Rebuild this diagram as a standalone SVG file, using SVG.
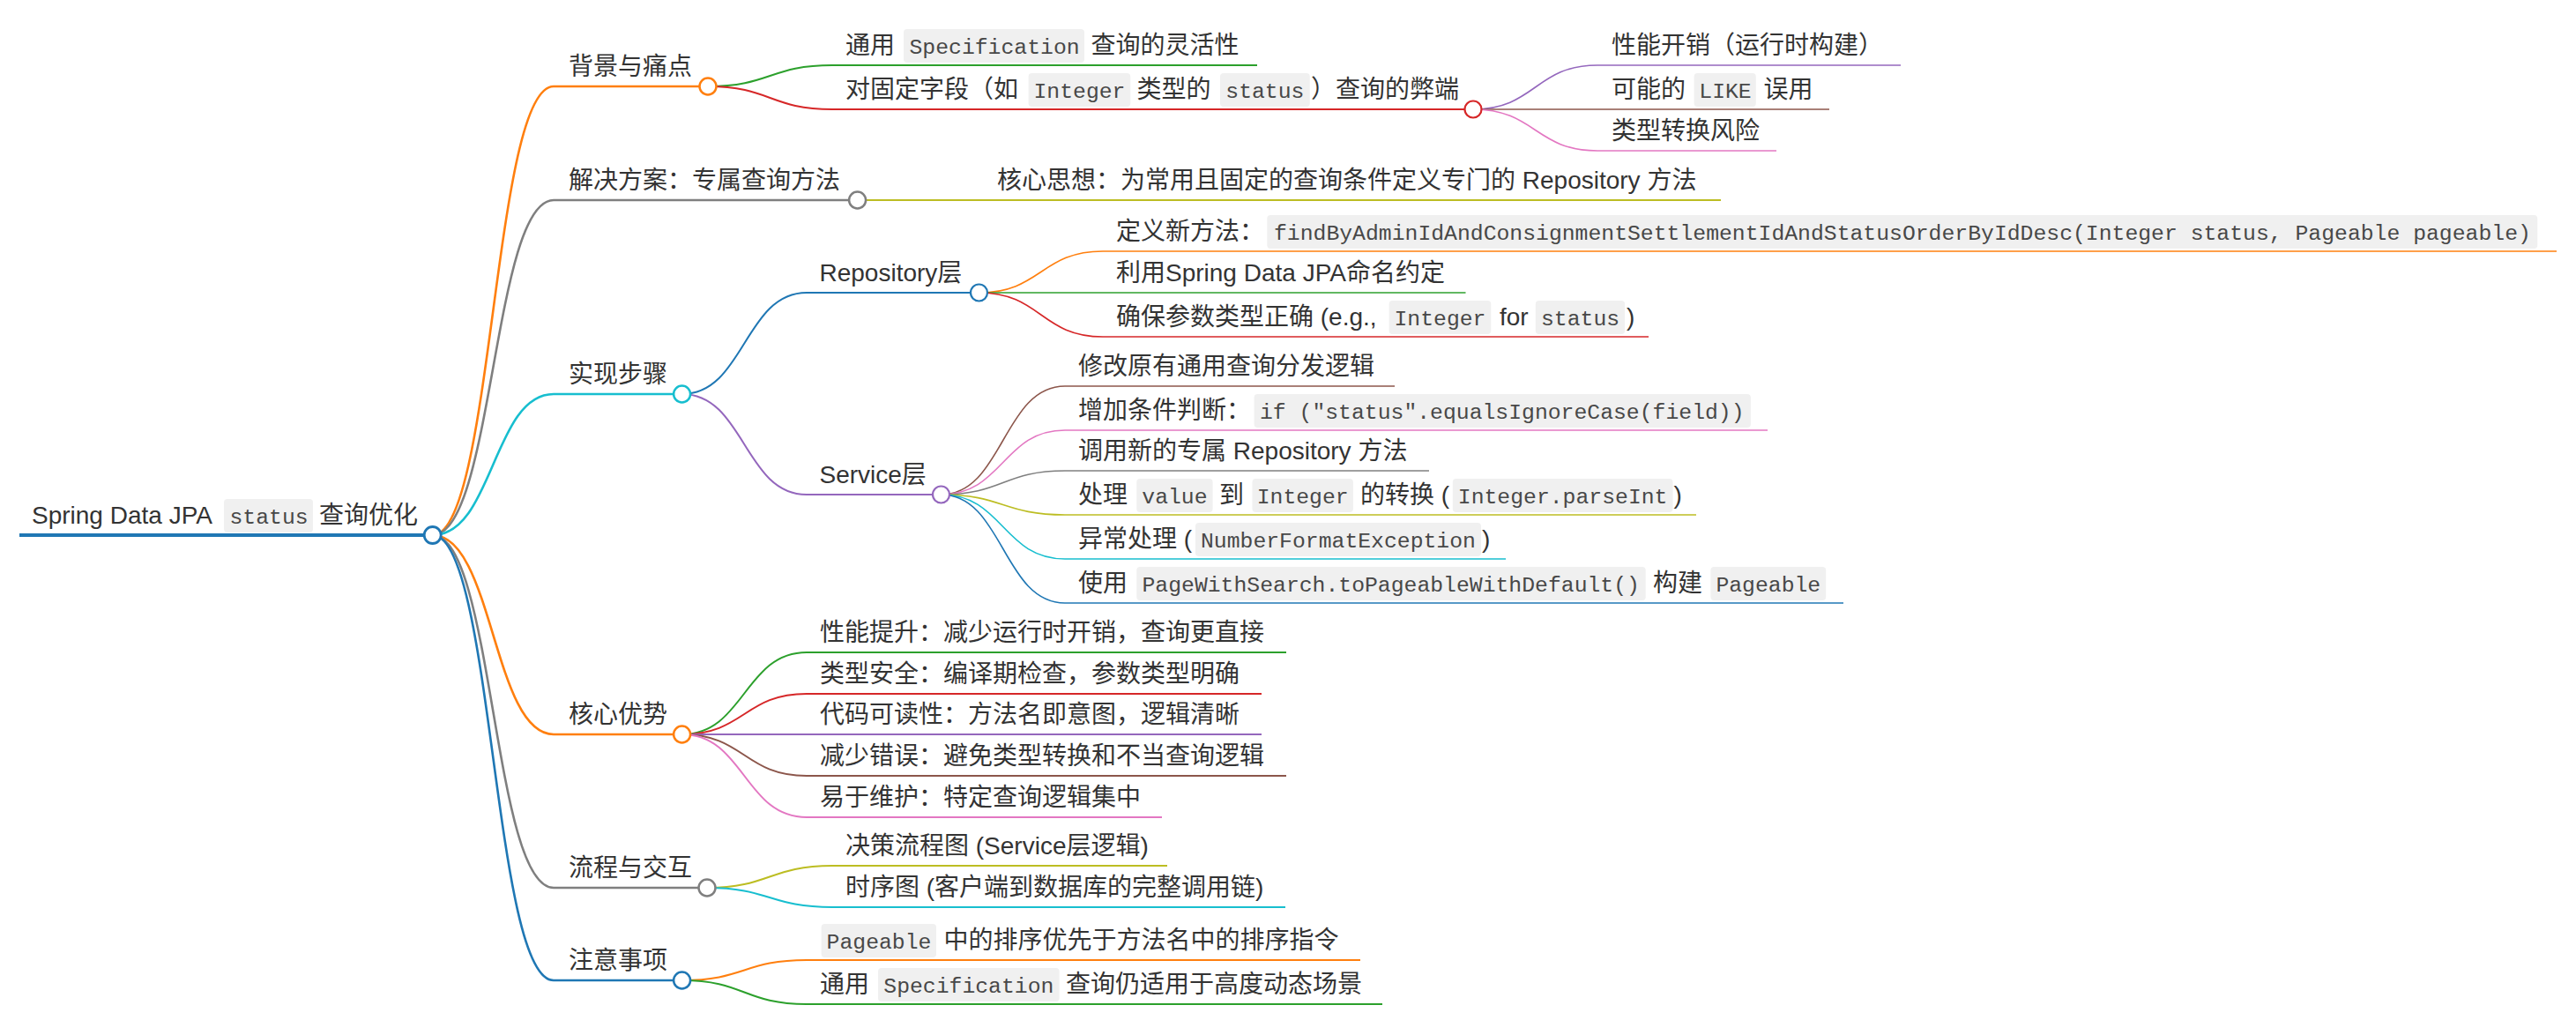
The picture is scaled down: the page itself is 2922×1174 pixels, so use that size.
<svg xmlns="http://www.w3.org/2000/svg" width="2922" height="1174" viewBox="0 0 2922 1174">
<style>
.t{font-family:"Liberation Sans","Noto Sans CJK SC",sans-serif;font-size:28px;fill:#333}
.c{font-family:"Liberation Mono",monospace;font-size:24.75px;fill:#484848}
.cb{fill:#f0f0f0}
.lk{fill:none}
.d0{stroke-width:4}
.d1{stroke-width:2.6}
.d2{stroke-width:2}
.d3{stroke-width:1.6}
.dot{fill:#fff}
.blue{stroke:#1f77b4}.orange{stroke:#ff7f0e}.green{stroke:#2ca02c}.red{stroke:#d62728}.purple{stroke:#9467bd}.brown{stroke:#8c564b}.pink{stroke:#e377c2}.gray{stroke:#7f7f7f}.olive{stroke:#bcbd22}.cyan{stroke:#17becf}
</style>
<rect width="2922" height="1174" fill="#fff"/>
<g id="connectors" class="lk">
<path class="d1 orange" d="M490.7 607C559.35 607 559.35 98 628 98"/>
<path class="d1 gray" d="M490.7 607C559.35 607 559.35 227 628 227"/>
<path class="d1 cyan" d="M490.7 607C559.35 607 559.35 447 628 447"/>
<path class="d1 orange" d="M490.7 607C559.35 607 559.35 833 628 833"/>
<path class="d1 gray" d="M490.7 607C559.35 607 559.35 1007 628 1007"/>
<path class="d1 blue" d="M490.7 607C559.35 607 559.35 1112 628 1112"/>
<path class="d2 green" d="M803 98C873.5 98 873.5 74 944 74"/>
<path class="d2 red" d="M803 98C873.5 98 873.5 124 944 124"/>
<path class="d3 purple" d="M1671 124C1741.5 124 1741.5 74 1812 74"/>
<path class="d3 brown" d="M1671 124L1812 124"/>
<path class="d3 pink" d="M1671 124C1741.5 124 1741.5 171 1812 171"/>
<path class="d2 olive" d="M972.6 227L1115 227"/>
<path class="d2 blue" d="M773.6 447C844.3 447 844.3 332 915 332"/>
<path class="d2 purple" d="M773.6 447C844.3 447 844.3 561 915 561"/>
<path class="d3 orange" d="M1110.5 332C1180.75 332 1180.75 285 1251 285"/>
<path class="d3 green" d="M1110.5 332L1251 332"/>
<path class="d3 red" d="M1110.5 332C1180.75 332 1180.75 382 1251 382"/>
<path class="d3 brown" d="M1067.5 561C1137.75 561 1137.75 438 1208 438"/>
<path class="d3 pink" d="M1067.5 561C1137.75 561 1137.75 488 1208 488"/>
<path class="d3 gray" d="M1067.5 561C1137.75 561 1137.75 534 1208 534"/>
<path class="d3 olive" d="M1067.5 561C1137.75 561 1137.75 584 1208 584"/>
<path class="d3 cyan" d="M1067.5 561C1137.75 561 1137.75 634 1208 634"/>
<path class="d3 blue" d="M1067.5 561C1137.75 561 1137.75 684 1208 684"/>
<path class="d2 green" d="M773.6 833C844.3 833 844.3 740 915 740"/>
<path class="d2 red" d="M773.6 833C844.3 833 844.3 787 915 787"/>
<path class="d2 purple" d="M773.6 833L915 833"/>
<path class="d2 brown" d="M773.6 833C844.3 833 844.3 880 915 880"/>
<path class="d2 pink" d="M773.6 833C844.3 833 844.3 927 915 927"/>
<path class="d2 olive" d="M802 1007C873 1007 873 982 944 982"/>
<path class="d2 cyan" d="M802 1007C873 1007 873 1029 944 1029"/>
<path class="d2 orange" d="M773.6 1112C844.3 1112 844.3 1089 915 1089"/>
<path class="d2 green" d="M773.6 1112C844.3 1112 844.3 1139 915 1139"/>
</g>

<g id="root">
<line class="d0 blue" x1="22" y1="607" x2="490.7" y2="607"/>
<rect class="cb" x="254" y="566" width="101" height="38" rx="4"/>
<text class="t" y="594"><tspan x="36">Spring Data JPA</tspan><tspan class="c" x="260.5">status</tspan><tspan x="362">查询优化</tspan></text>
<circle class="dot blue" cx="490.7" cy="607" r="9.5" stroke-width="2.8"/>
</g>

<g id="n-bg">
<line class="d1 orange" x1="628" y1="98" x2="803" y2="98"/>
<text class="t" x="645" y="85">背景与痛点</text>
<circle class="dot orange" cx="803" cy="98" r="9.5" stroke-width="2.5"/>
</g>
<g id="n-bg-1">
<line class="d2 green" x1="944" y1="74" x2="1426" y2="74"/>
<rect class="cb" x="1025" y="33" width="205" height="38" rx="4"/>
<text class="t" y="61"><tspan x="959">通用</tspan><tspan class="c" x="1031.5">Specification</tspan><tspan x="1237.5">查询的灵活性</tspan></text>
</g>
<g id="n-bg-2">
<line class="d2 red" x1="944" y1="124" x2="1671" y2="124"/>
<rect class="cb" x="1166.6" y="83" width="115.7" height="38" rx="4"/>
<rect class="cb" x="1384" y="83" width="101.8" height="38" rx="4"/>
<text class="t" y="111"><tspan x="959">对固定字段（如</tspan><tspan class="c" x="1172.5">Integer</tspan><tspan x="1289.5">类型的</tspan><tspan class="c" x="1390.3">status</tspan><tspan x="1487">）查询的弊端</tspan></text>
<circle class="dot red" cx="1671" cy="124" r="9.5" stroke-width="2.2"/>
</g>
<g id="n-bg-2-1">
<line class="d3 purple" x1="1812" y1="74" x2="2156" y2="74"/>
<text class="t" x="1828" y="61">性能开销（运行时构建）</text>
</g>
<g id="n-bg-2-2">
<line class="d3 brown" x1="1812" y1="124" x2="2075" y2="124"/>
<rect class="cb" x="1921.6" y="83" width="70.2" height="38" rx="4"/>
<text class="t" y="111"><tspan x="1828">可能的</tspan><tspan class="c" x="1927.3">LIKE</tspan><tspan x="2000.5">误用</tspan></text>
</g>
<g id="n-bg-2-3">
<line class="d3 pink" x1="1812" y1="171" x2="2015" y2="171"/>
<text class="t" x="1828" y="158">类型转换风险</text>
</g>

<g id="n-sol">
<line class="d1 gray" x1="628" y1="227" x2="972.6" y2="227"/>
<text class="t" x="645" y="214">解决方案：专属查询方法</text>
<circle class="dot gray" cx="972.6" cy="227" r="9.5" stroke-width="2.5"/>
</g>
<g id="n-sol-1">
<line class="d2 olive" x1="1115" y1="227" x2="1952" y2="227"/>
<text class="t" x="1131" y="214">核心思想：为常用且固定的查询条件定义专门的 Repository 方法</text>
</g>

<g id="n-impl">
<line class="d1 cyan" x1="628" y1="447" x2="773.6" y2="447"/>
<text class="t" x="645" y="434">实现步骤</text>
<circle class="dot cyan" cx="773.6" cy="447" r="9.5" stroke-width="2.5"/>
</g>
<g id="n-repo">
<line class="d2 blue" x1="915" y1="332" x2="1110.5" y2="332"/>
<text class="t" x="929.5" y="319">Repository层</text>
<circle class="dot blue" cx="1110.5" cy="332" r="9.5" stroke-width="2.2"/>
</g>
<g id="n-repo-1">
<line class="d3 orange" x1="1251" y1="285" x2="2900" y2="285"/>
<rect class="cb" x="1437.3" y="244" width="1441" height="38" rx="4"/>
<text class="t" y="272"><tspan x="1266">定义新方法：</tspan><tspan class="c" x="1445">findByAdminIdAndConsignmentSettlementIdAndStatusOrderByIdDesc(Integer status, Pageable pageable)</tspan></text>
</g>
<g id="n-repo-2">
<line class="d3 green" x1="1251" y1="332" x2="1662.5" y2="332"/>
<text class="t" x="1266" y="319">利用Spring Data JPA命名约定</text>
</g>
<g id="n-repo-3">
<line class="d3 red" x1="1251" y1="382" x2="1870" y2="382"/>
<rect class="cb" x="1575.6" y="341" width="115.7" height="38" rx="4"/>
<rect class="cb" x="1741.8" y="341" width="101.3" height="38" rx="4"/>
<text class="t" y="369"><tspan x="1266">确保参数类型正确 (e.g.,</tspan><tspan class="c" x="1581.5">Integer</tspan><tspan x="1701">for</tspan><tspan class="c" x="1748">status</tspan><tspan x="1845">)</tspan></text>
</g>
<g id="n-svc">
<line class="d2 purple" x1="915" y1="561" x2="1067.5" y2="561"/>
<text class="t" x="929.5" y="548">Service层</text>
<circle class="dot purple" cx="1067.5" cy="561" r="9.5" stroke-width="2.2"/>
</g>
<g id="n-svc-1">
<line class="d3 brown" x1="1208" y1="438" x2="1582" y2="438"/>
<text class="t" x="1223" y="425">修改原有通用查询分发逻辑</text>
</g>
<g id="n-svc-2">
<line class="d3 pink" x1="1208" y1="488" x2="2005" y2="488"/>
<rect class="cb" x="1422.6" y="447" width="563.3" height="38" rx="4"/>
<text class="t" y="475"><tspan x="1223">增加条件判断：</tspan><tspan class="c" x="1429">if ("status".equalsIgnoreCase(field))</tspan></text>
</g>
<g id="n-svc-3">
<line class="d3 gray" x1="1208" y1="534" x2="1621" y2="534"/>
<text class="t" x="1223" y="521">调用新的专属 Repository 方法</text>
</g>
<g id="n-svc-4">
<line class="d3 olive" x1="1208" y1="584" x2="1924" y2="584"/>
<rect class="cb" x="1289.3" y="543" width="86.3" height="38" rx="4"/>
<rect class="cb" x="1420.5" y="543" width="114.4" height="38" rx="4"/>
<rect class="cb" x="1647.8" y="543" width="249.7" height="38" rx="4"/>
<text class="t" y="571"><tspan x="1223">处理</tspan><tspan class="c" x="1295.3">value</tspan><tspan x="1383">到</tspan><tspan class="c" x="1425.7">Integer</tspan><tspan x="1543">的转换 (</tspan><tspan class="c" x="1653.8">Integer.parseInt</tspan><tspan x="1898.5">)</tspan></text>
</g>
<g id="n-svc-5">
<line class="d3 cyan" x1="1208" y1="634" x2="1708" y2="634"/>
<rect class="cb" x="1356" y="593" width="324" height="38" rx="4"/>
<text class="t" y="621"><tspan x="1223">异常处理 (</tspan><tspan class="c" x="1362">NumberFormatException</tspan><tspan x="1681">)</tspan></text>
</g>
<g id="n-svc-6">
<line class="d3 blue" x1="1208" y1="684" x2="2091" y2="684"/>
<rect class="cb" x="1289.3" y="643" width="577.4" height="38" rx="4"/>
<rect class="cb" x="1940.4" y="643" width="130.8" height="38" rx="4"/>
<text class="t" y="671"><tspan x="1223">使用</tspan><tspan class="c" x="1295.5">PageWithSearch.toPageableWithDefault()</tspan><tspan x="1875">构建</tspan><tspan class="c" x="1946.4">Pageable</tspan></text>
</g>

<g id="n-adv">
<line class="d1 orange" x1="628" y1="833" x2="773.6" y2="833"/>
<text class="t" x="645" y="820">核心优势</text>
<circle class="dot orange" cx="773.6" cy="833" r="9.5" stroke-width="2.5"/>
</g>
<g id="n-adv-1">
<line class="d2 green" x1="915" y1="740" x2="1459" y2="740"/>
<text class="t" x="930" y="727">性能提升：减少运行时开销，查询更直接</text>
</g>
<g id="n-adv-2">
<line class="d2 red" x1="915" y1="787" x2="1431" y2="787"/>
<text class="t" x="930" y="774">类型安全：编译期检查，参数类型明确</text>
</g>
<g id="n-adv-3">
<line class="d2 purple" x1="915" y1="833" x2="1431" y2="833"/>
<text class="t" x="930" y="820">代码可读性：方法名即意图，逻辑清晰</text>
</g>
<g id="n-adv-4">
<line class="d2 brown" x1="915" y1="880" x2="1459" y2="880"/>
<text class="t" x="930" y="867">减少错误：避免类型转换和不当查询逻辑</text>
</g>
<g id="n-adv-5">
<line class="d2 pink" x1="915" y1="927" x2="1318" y2="927"/>
<text class="t" x="930" y="914">易于维护：特定查询逻辑集中</text>
</g>

<g id="n-flow">
<line class="d1 gray" x1="628" y1="1007" x2="802" y2="1007"/>
<text class="t" x="645" y="994">流程与交互</text>
<circle class="dot gray" cx="802" cy="1007" r="9.5" stroke-width="2.5"/>
</g>
<g id="n-flow-1">
<line class="d2 olive" x1="944" y1="982" x2="1324" y2="982"/>
<text class="t" x="959" y="969">决策流程图 (Service层逻辑)</text>
</g>
<g id="n-flow-2">
<line class="d2 cyan" x1="944" y1="1029" x2="1458" y2="1029"/>
<text class="t" x="959" y="1016">时序图 (客户端到数据库的完整调用链)</text>
</g>

<g id="n-note">
<line class="d1 blue" x1="628" y1="1112" x2="773.6" y2="1112"/>
<text class="t" x="645" y="1099">注意事项</text>
<circle class="dot blue" cx="773.6" cy="1112" r="9.5" stroke-width="2.5"/>
</g>
<g id="n-note-1">
<line class="d2 orange" x1="915" y1="1089" x2="1543" y2="1089"/>
<rect class="cb" x="931.6" y="1048" width="130.4" height="38" rx="4"/>
<text class="t" y="1076"><tspan class="c" x="937.6">Pageable</tspan><tspan x="1070.5">中的排序优先于方法名中的排序指令</tspan></text>
</g>
<g id="n-note-2">
<line class="d2 green" x1="915" y1="1139" x2="1568" y2="1139"/>
<rect class="cb" x="996" y="1098" width="205.6" height="38" rx="4"/>
<text class="t" y="1126"><tspan x="930">通用</tspan><tspan class="c" x="1002.3">Specification</tspan><tspan x="1209">查询仍适用于高度动态场景</tspan></text>
</g>
</svg>
